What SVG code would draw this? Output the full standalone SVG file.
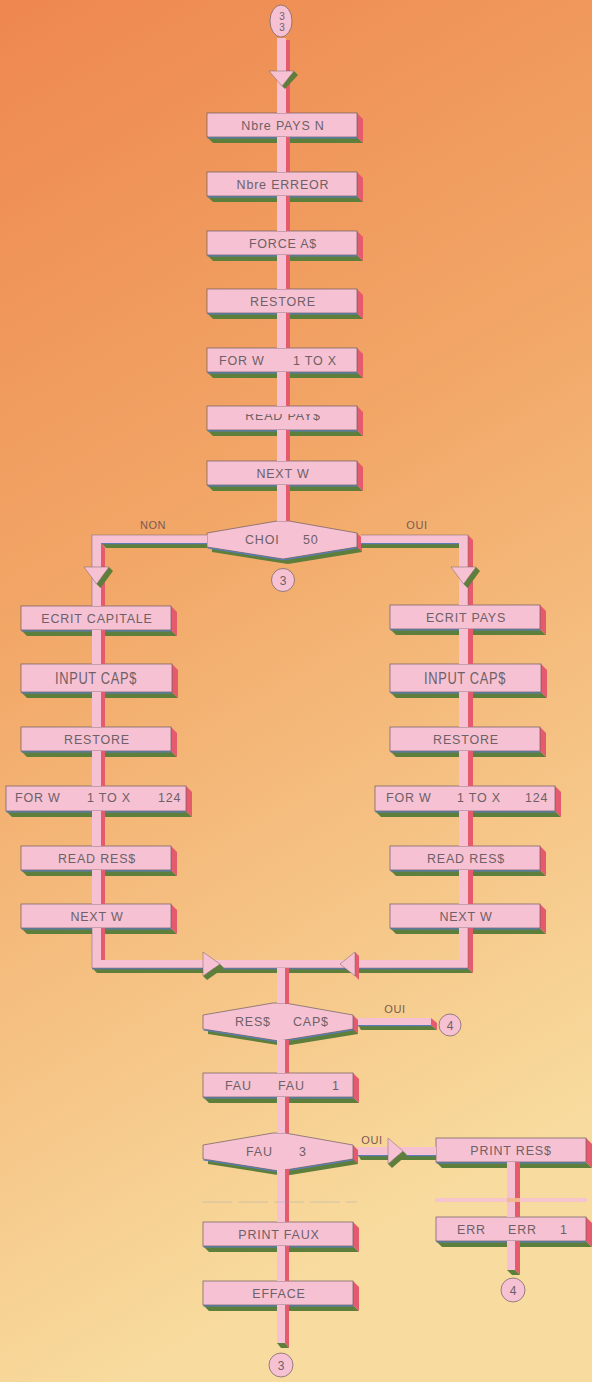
<svg xmlns="http://www.w3.org/2000/svg" xmlns:xlink="http://www.w3.org/1999/xlink" width="592" height="1382" viewBox="0 0 592 1382">
<defs>
<linearGradient id="bg" x1="0" y1="0" x2="0.25" y2="1">
<stop offset="0" stop-color="#EE8750"/>
<stop offset="0.45" stop-color="#F2A868"/>
<stop offset="1" stop-color="#F8DC9F"/>
</linearGradient>
<style>
.f{fill:#F6C2D3;stroke:#6d5a60;stroke-width:.7}
.p{fill:#F6C2D3}
.g{fill:#5E7E3C}
.r{fill:#E65A6E}
.b{stroke:#5B7CB5;stroke-width:1.3;fill:none}
.o{fill:none;stroke:#7a6066;stroke-width:.5}
.t{font-family:"Liberation Sans",Arial,sans-serif;font-size:12.5px;fill:#6e6066;letter-spacing:.8px}
.m{text-anchor:middle}
.l{font-family:"Liberation Sans",Arial,sans-serif;font-size:11px;fill:#7a5a52;letter-spacing:.6px;text-anchor:middle}
.c{font-family:"Liberation Sans",Arial,sans-serif;font-size:12px;fill:#6e6066;text-anchor:middle}
</style>
<g id="bx">
<polygon class="g" points="0,24 150,24 156,30 6,30"/>
<polygon class="r" points="150,0 156,6 156,30 150,24"/>
<rect class="f" x="0" y="0" width="150" height="24"/>
<line class="b" x1="0.5" y1="24.8" x2="150" y2="24.8"/>
</g>
<g id="bxT">
<polygon class="g" points="0,28 151,28 157,34 6,34"/>
<polygon class="r" points="151,0 157,6 157,34 151,28"/>
<rect class="f" x="0" y="0" width="151" height="28"/>
<line class="b" x1="0.5" y1="28.8" x2="151" y2="28.8"/>
</g>
<g id="bxW">
<polygon class="g" points="0,25 180,25 186,31 6,31"/>
<polygon class="r" points="180,0 186,6 186,31 180,25"/>
<rect class="f" x="0" y="0" width="180" height="25"/>
<line class="b" x1="0.5" y1="25.8" x2="180" y2="25.8"/>
</g>
<g id="dm">
<polygon class="g" transform="translate(5,5)" points="0,12 70,0 82,0 150,12 150,26 76,38 0,26"/>
<polygon class="r" points="150,12 155,17 155,31 150,26"/>
<polygon class="f" points="0,12 70,0 82,0 150,12 150,26 76,38 0,26"/>
<polyline class="b" points="0.5,26.8 76,38.8 150,26.8"/>
</g>
<clipPath id="cp"><rect x="207" y="414" width="150" height="16"/></clipPath>
</defs>
<rect x="0" y="0" width="592" height="1382" fill="url(#bg)"/>

<!-- nodes -->
<g id="start3">
<ellipse cx="281" cy="21" rx="11" ry="16" class="f"/>
<text class="c" x="282" y="19.5" style="font-size:10px">3</text>
<text class="c" x="282" y="31" style="font-size:10px">3</text>
</g>
<g id="n_nbre_pays"><use xlink:href="#bx" x="207" y="113"/><text class="t m" x="283" y="130">Nbre PAYS N</text></g>
<g id="n_nbre_err"><use xlink:href="#bx" x="207" y="172"/><text class="t m" x="283" y="189">Nbre ERREOR</text></g>
<g id="n_force"><use xlink:href="#bx" x="207" y="231"/><text class="t m" x="283" y="248">FORCE A$</text></g>
<g id="n_restore"><use xlink:href="#bx" x="207" y="289"/><text class="t m" x="283" y="306">RESTORE</text></g>
<g id="n_for"><use xlink:href="#bx" x="207" y="348"/><text class="t" x="219" y="365">FOR W</text><text class="t" x="293" y="365">1 TO X</text></g>
<g id="n_read_pays"><use xlink:href="#bx" x="207" y="406"/><text class="t m" x="283" y="420" clip-path="url(#cp)">READ PAY$</text></g>
<g id="n_next"><use xlink:href="#bx" x="207" y="461"/><text class="t m" x="283" y="478">NEXT W</text></g>
<g id="d_choi"><use xlink:href="#dm" x="207" y="521"/><text class="t" x="245" y="544">CHOI</text><text class="t" x="303" y="544">50</text></g>
<g id="c_3a"><circle cx="283" cy="580" r="11.5" class="f"/><text class="c" x="283" y="584.5">3</text></g>

<g id="l_ecrit"><use xlink:href="#bx" x="21" y="606"/><text class="t m" x="97" y="623">ECRIT CAPITALE</text></g>
<g id="l_input"><use xlink:href="#bxT" x="21" y="664"/><text class="t m" x="96" y="684" style="font-size:16px" textLength="82" lengthAdjust="spacingAndGlyphs">INPUT CAP$</text></g>
<g id="l_restore"><use xlink:href="#bx" x="21" y="727"/><text class="t m" x="97" y="744">RESTORE</text></g>
<g id="l_for"><use xlink:href="#bxW" x="6" y="786"/><text class="t" x="15" y="802">FOR W</text><text class="t" x="87" y="802">1 TO X</text><text class="t" x="158" y="802">124</text></g>
<g id="l_read"><use xlink:href="#bx" x="21" y="846"/><text class="t m" x="97" y="863">READ RES$</text></g>
<g id="l_next"><use xlink:href="#bx" x="21" y="904"/><text class="t m" x="97" y="921">NEXT W</text></g>

<g id="r_ecrit"><use xlink:href="#bx" x="390" y="605"/><text class="t m" x="466" y="622">ECRIT PAYS</text></g>
<g id="r_input"><use xlink:href="#bxT" x="390" y="664"/><text class="t m" x="465" y="684" style="font-size:16px" textLength="82" lengthAdjust="spacingAndGlyphs">INPUT CAP$</text></g>
<g id="r_restore"><use xlink:href="#bx" x="390" y="727"/><text class="t m" x="466" y="744">RESTORE</text></g>
<g id="r_for"><use xlink:href="#bxW" x="375" y="786"/><text class="t" x="386" y="802">FOR W</text><text class="t" x="457" y="802">1 TO X</text><text class="t" x="525" y="802">124</text></g>
<g id="r_read"><use xlink:href="#bx" x="390" y="846"/><text class="t m" x="466" y="863">READ RES$</text></g>
<g id="r_next"><use xlink:href="#bx" x="390" y="904"/><text class="t m" x="466" y="921">NEXT W</text></g>

<g id="d_res"><use xlink:href="#dm" x="203" y="1003"/><text class="t" x="235" y="1026">RES$</text><text class="t" x="293" y="1026">CAP$</text></g>
<g id="c_4a"><circle cx="450" cy="1025" r="11" class="f"/><text class="c" x="450" y="1029.5">4</text></g>
<g id="n_fau"><use xlink:href="#bx" x="203" y="1073"/><text class="t" x="225" y="1090">FAU</text><text class="t" x="278" y="1090">FAU</text><text class="t" x="332" y="1090">1</text></g>
<g id="d_fau3"><use xlink:href="#dm" x="203" y="1133"/><text class="t" x="246" y="1156">FAU</text><text class="t" x="299" y="1156">3</text></g>
<g id="n_print_res"><use xlink:href="#bx" x="436" y="1138"/><text class="t m" x="511" y="1155">PRINT RES$</text></g>
<g id="n_err"><use xlink:href="#bx" x="436" y="1217"/><text class="t" x="457" y="1234">ERR</text><text class="t" x="508" y="1234">ERR</text><text class="t" x="560" y="1234">1</text></g>
<g id="c_4b"><circle cx="513" cy="1290" r="12" class="f"/><text class="c" x="513" y="1294.5">4</text></g>
<g id="n_print_faux"><use xlink:href="#bx" x="203" y="1222"/><text class="t m" x="279" y="1239">PRINT FAUX</text></g>
<g id="n_efface"><use xlink:href="#bx" x="203" y="1281"/><text class="t m" x="279" y="1298">EFFACE</text></g>
<g id="c_3b"><circle cx="281" cy="1365" r="12" class="f"/><text class="c" x="281" y="1369.5">3</text></g>

<!-- connectors -->
<g id="connectors">
<g>
<rect class="p" x="277" y="38" width="9" height="75"/><rect class="r" x="286" y="40" width="4" height="73"/>
<polygon class="g" points="294,71 298,75 285,89 282,86"/>
<polygon class="p" points="269,71 294,71 282,86"/>
<polyline class="o" points="269,71 294,71 282,86 269,71"/>
<rect class="p" x="277" y="137" width="9" height="35"/><rect class="r" x="286" y="137" width="4" height="35"/>
<rect class="p" x="277" y="196" width="9" height="35"/><rect class="r" x="286" y="196" width="4" height="35"/>
<rect class="p" x="277" y="255" width="9" height="34"/><rect class="r" x="286" y="255" width="4" height="34"/>
<rect class="p" x="277" y="313" width="9" height="35"/><rect class="r" x="286" y="313" width="4" height="35"/>
<rect class="p" x="277" y="372" width="9" height="34"/><rect class="r" x="286" y="372" width="4" height="34"/>
<rect class="p" x="277" y="430" width="9" height="31"/><rect class="r" x="286" y="430" width="4" height="31"/>
<rect class="p" x="277" y="485" width="9" height="36"/><rect class="r" x="286" y="485" width="4" height="36"/>
</g>
<g>
<polygon class="g" points="101,543 207,543 207,548 106,548"/>
<line class="b" x1="101" y1="543.6" x2="207" y2="543.6"/>
<polygon class="r" points="101,543 105,548 105,606 101,606"/>
<polygon class="p" points="92,535 207,535 207,543 101,543 101,606 92,606"/>
<polyline class="o" points="207,535 92,535 92,606"/>
<polygon class="g" points="109,567 113,571 100.5,588 96.5,584"/>
<polygon class="p" points="84,567 109,567 96.5,584"/>
<polyline class="o" points="84,567 109,567 96.5,584 84,567"/>
<text class="l" x="153" y="529">NON</text>
</g>
<g>
<polygon class="g" points="361,543 459,543 459,548 361,548"/>
<line class="b" x1="361" y1="543.6" x2="459" y2="543.6"/>
<polygon class="r" points="468,535 473,540 473,605 468,605"/>
<polygon class="p" points="361,535 468,535 468,605 459,605 459,543 361,543"/>
<polyline class="o" points="361,535 468,535 468,605"/>
<polygon class="g" points="476,567 480,571 467.5,588 463.5,584"/>
<polygon class="p" points="451,567 476,567 463.5,584"/>
<polyline class="o" points="451,567 476,567 463.5,584 451,567"/>
<text class="l" x="417" y="529">OUI</text>
</g>
<g>
<rect class="p" x="92" y="630" width="9" height="34"/><rect class="r" x="101" y="630" width="4" height="34"/>
<rect class="p" x="92" y="692" width="9" height="35"/><rect class="r" x="101" y="692" width="4" height="35"/>
<rect class="p" x="92" y="751" width="9" height="35"/><rect class="r" x="101" y="751" width="4" height="35"/>
<rect class="p" x="92" y="811" width="9" height="35"/><rect class="r" x="101" y="811" width="4" height="35"/>
<rect class="p" x="92" y="870" width="9" height="34"/><rect class="r" x="101" y="870" width="4" height="34"/>
</g>
<g>
<rect class="p" x="459" y="629" width="9" height="35"/><rect class="r" x="468" y="629" width="5" height="35"/>
<rect class="p" x="459" y="692" width="9" height="35"/><rect class="r" x="468" y="692" width="5" height="35"/>
<rect class="p" x="459" y="751" width="9" height="35"/><rect class="r" x="468" y="751" width="5" height="35"/>
<rect class="p" x="459" y="811" width="9" height="35"/><rect class="r" x="468" y="811" width="5" height="35"/>
<rect class="p" x="459" y="870" width="9" height="34"/><rect class="r" x="468" y="870" width="5" height="34"/>
</g>
<g>
<polygon class="g" points="92,968 468,968 473,973 97,973"/>
<line class="b" x1="92" y1="968.6" x2="468" y2="968.6"/>
<polygon class="r" points="101,928 105,928 105,960 101,960"/>
<polygon class="r" points="468,928 473,928 473,973 468,968"/>
<polygon class="p" points="92,928 101,928 101,960 459,960 459,928 468,928 468,968 92,968"/>
<polyline class="o" points="92,928 92,968 468,968 468,928"/>
<polygon class="g" points="220,964 224,968 207,980 203,976"/>
<polygon class="p" points="203,952 220,964 203,976"/>
<polyline class="o" points="203,952 220,964 203,976 203,952"/>
<polygon class="r" points="355,952 359,956 359,980 355,976"/>
<polygon class="p" points="340,964 355,952 355,976"/>
<polyline class="o" points="340,964 355,952 355,976 340,964"/>
</g>
<g>
<rect class="p" x="277" y="968" width="8" height="35"/><rect class="r" x="285" y="968" width="4" height="36"/>
<rect class="p" x="277" y="1040" width="8" height="33"/><rect class="r" x="285" y="1040" width="4" height="33"/>
<rect class="p" x="277" y="1097" width="8" height="36"/><rect class="r" x="285" y="1097" width="4" height="36"/>
<rect class="p" x="277" y="1169" width="8" height="53"/><rect class="r" x="285" y="1169" width="4" height="53"/>
<rect class="p" x="277" y="1246" width="8" height="35"/><rect class="r" x="285" y="1246" width="4" height="35"/>
<rect class="p" x="277" y="1305" width="8" height="38"/>
<polygon class="r" points="285,1305 289,1305 289,1348 285,1343"/>
<polygon class="g" points="277,1343 285,1343 289,1348 281,1348"/>
</g>
<g>
<polygon class="g" points="358,1025 431,1025 437,1030 361,1030"/>
<line class="b" x1="358" y1="1025.6" x2="431" y2="1025.6"/>
<rect class="p" x="358" y="1018" width="73" height="7"/>
<polygon class="r" points="431,1018 437,1023 437,1030 431,1025"/>
<text class="l" x="395" y="1013">OUI</text>
</g>
<g>
<polygon class="g" points="358,1155 436,1155 436,1160 361,1160"/>
<line class="b" x1="358" y1="1155.6" x2="436" y2="1155.6"/>
<rect class="p" x="358" y="1147" width="78" height="8"/>
<polygon class="g" points="403,1151 407,1155 392,1168 388,1164"/>
<polygon class="p" points="388,1138 403,1151 388,1164"/>
<polyline class="o" points="388,1138 403,1151 388,1164 388,1138"/>
<text class="l" x="372" y="1144">OUI</text>
</g>
<g>
<rect class="p" x="507" y="1162" width="8" height="55"/><rect class="r" x="515" y="1162" width="5" height="55"/>
<rect class="p" x="507" y="1241" width="8" height="29"/>
<polygon class="r" points="515,1241 520,1241 520,1275 515,1270"/>
<polygon class="g" points="507,1270 515,1270 520,1275 512,1275"/>
</g>
</g>

<line x1="202" y1="1202" x2="357" y2="1202" stroke="#8fa0b8" stroke-width=".8" stroke-dasharray="30 6" opacity=".45"/>
<rect x="435" y="1198" width="152" height="4" fill="#F6C2D3" opacity=".9"/>
<rect x="507" y="1198" width="13" height="4" fill="#F2B060" opacity=".6"/>
</svg>
